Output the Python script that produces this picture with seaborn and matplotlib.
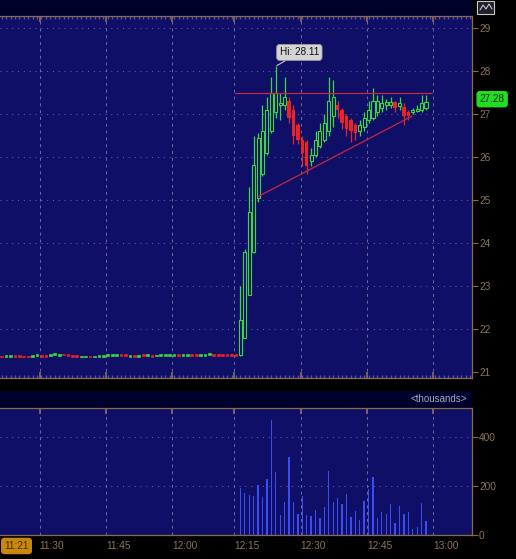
import numpy as np
import matplotlib
matplotlib.use('Agg')
import matplotlib.pyplot as plt
import seaborn as sns
from matplotlib.patches import Rectangle

# ---- data -------------------------------------------------------------
# flat bars 11:21 - 12:14 (one per minute)
pre_open = [21.38, 21.36, 21.36, 21.40, 21.40, 21.38, 21.38, 21.36, 21.38, 21.40,
            21.40, 21.38, 21.39, 21.38, 21.42, 21.41, 21.40, 21.40, 21.34, 21.34,
            21.38, 21.35, 21.36, 21.36, 21.38, 21.38, 21.38, 21.41, 21.41, 21.36,
            21.40, 21.35, 21.41, 21.38, 21.40, 21.37, 21.38, 21.38, 21.38, 21.38,
            21.41, 21.38, 21.38, 21.41, 21.41, 21.38, 21.38, 21.40, 21.41, 21.41,
            21.41, 21.41, 21.41, 21.41]
pre_close = [21.35, 21.40, 21.40, 21.36, 21.36, 21.35, 21.35, 21.40, 21.41, 21.36,
             21.36, 21.42, 21.43, 21.41, 21.39, 21.38, 21.36, 21.36, 21.37, 21.37,
             21.35, 21.38, 21.40, 21.40, 21.41, 21.41, 21.41, 21.38, 21.38, 21.40,
             21.36, 21.39, 21.37, 21.41, 21.36, 21.40, 21.41, 21.41, 21.42, 21.42,
             21.38, 21.41, 21.41, 21.38, 21.38, 21.42, 21.42, 21.44, 21.38, 21.38,
             21.38, 21.38, 21.38, 21.38]

# candles from 12:15 on
post_open = [21.40, 21.80, 22.80, 23.80, 25.05, 25.60, 26.10, 26.60, 27.05, 27.20,
             27.20, 27.30, 27.10, 26.75, 26.40, 26.35, 25.90, 26.05, 26.25, 26.40,
             26.60, 26.95, 27.20, 27.10, 26.95, 26.85, 26.75, 26.60, 26.70, 26.85,
             26.90, 27.05, 27.15, 27.20, 27.22, 27.27, 27.18, 27.17, 27.05, 27.05,
             27.08, 27.10, 27.15]
post_high = [23.00, 23.85, 25.31, 26.50, 26.55, 27.20, 27.40, 27.85, 28.11, 27.50,
             27.85, 27.40, 27.20, 26.80, 26.50, 26.40, 26.20, 26.60, 26.80, 27.00,
             27.85, 27.80, 27.30, 27.15, 27.00, 26.90, 26.80, 26.85, 27.05, 27.30,
             27.60, 27.45, 27.45, 27.35, 27.40, 27.30, 27.40, 27.25, 27.10, 27.15,
             27.20, 27.45, 27.45]
post_low = [21.38, 21.78, 22.79, 23.77, 24.95, 25.55, 26.05, 26.55, 26.90, 26.85,
            27.10, 26.80, 26.30, 26.30, 25.80, 25.60, 25.80, 26.00, 26.20, 26.35,
            26.50, 26.70, 26.90, 26.65, 26.50, 26.35, 26.40, 26.50, 26.60, 26.80,
            26.85, 26.95, 27.05, 27.10, 27.15, 27.05, 27.10, 26.75, 26.85, 27.00,
            27.05, 27.05, 27.10]
post_close = [22.20, 23.78, 24.73, 25.81, 26.45, 26.60, 27.10, 27.50, 27.50, 27.25,
              27.40, 26.90, 26.50, 26.40, 26.10, 25.80, 26.05, 26.40, 26.60, 26.80,
              27.30, 27.40, 27.10, 26.80, 26.65, 26.60, 26.55, 26.75, 26.90, 27.10,
              27.30, 27.30, 27.25, 27.27, 27.27, 27.15, 27.25, 26.95, 26.95, 27.10,
              27.12, 27.25, 27.28]

# volume (thousands) for the candles from 12:15 on
volume = [193, 172, 165, 159, 203, 156, 230, 468, 258, 81,
          136, 319, 133, 85, 159, 81, 77, 102, 68, 113,
          260, 136, 149, 126, 167, 75, 99, 61, 138, 186,
          235, 68, 94, 85, 126, 50, 118, 85, 92, 23,
          34, 132, 57]

time_labels = ['11:30', '11:45', '12:00', '12:15', '12:30', '12:45', '13:00']
time_ticks = [8.6, 23.6, 38.6, 52.6, 67.6, 82.6, 97.6]
price_ticks = [21, 22, 23, 24, 25, 26, 27, 28, 29]
vol_ticks = [0, 200, 400]

hi_value = 28.11
last_price = 27.28
first_time = '11:21'

resist_x = [52.8, 97.4]
resist_y = [27.50, 27.50]
support_x = [58.0, 92.8]
support_y = [25.08, 26.95]

# ---- style ------------------------------------------------------------
sns.set_theme(style='dark')
plt.rcParams['font.family'] = ['Liberation Sans', 'DejaVu Sans']

navy = '#0f0f68'
dark = '#00002c'
brown = '#8c6c40'
label_c = '#8e7452'
grid_c = '#6c6ca2'
green = '#3ad83a'
red = '#ee2222'
blue = '#3a4cf2'

W, H = 516, 559
fig = plt.figure(figsize=(W / 100, H / 100), dpi=100, facecolor='black')


def frame(x0, y0, x1, y1):
    return [x0 / W, 1 - y1 / H, (x1 - x0) / W, (y1 - y0) / H]


n_pre = np.arange(len(pre_open))
n_post = np.arange(len(post_open)) + len(pre_open)
xlim = (-0.385, 106.4)

# dark strips
for box in [(0, 0, 472, 16), (0, 391, 472, 408)]:
    a = fig.add_axes(frame(*box))
    a.set_facecolor(dark)
    a.set_xticks([])
    a.set_yticks([])
    for s in a.spines.values():
        s.set_visible(False)

# ---- price panel -------------------------------------------------------
ax = fig.add_axes(frame(0, 16, 472, 378))
ax.set_facecolor(navy)
ax.set_xlim(*xlim)
ax.set_ylim(20.86, 29.28)

for p in price_ticks[1:]:
    ax.axhline(p, color=grid_c, lw=0.7, ls=(0, (1, 5)), zorder=1)
for t in time_ticks:
    ax.axvline(t, color=grid_c, lw=0.7, ls=(0, (3, 4)), zorder=1)

# flat bars
pre_o = np.array(pre_open)
pre_c = np.array(pre_close)
pre_col = [green if c >= o else red for o, c in zip(pre_o, pre_c)]
ax.bar(n_pre, np.abs(pre_c - pre_o), bottom=np.minimum(pre_o, pre_c),
       width=0.62, color=pre_col, edgecolor=pre_col, linewidth=0.5, zorder=3)

# candles
po = np.array(post_open)
pc = np.array(post_close)
ph = np.array(post_high)
pl = np.array(post_low)
up = pc >= po
wick_col = [green if u else red for u in up]
ax.vlines(n_post, pl, ph, colors=wick_col, lw=0.9, zorder=2)
ax.bar(n_post[up], (pc - po)[up], bottom=po[up], width=0.7,
       facecolor=navy, edgecolor=green, linewidth=0.8, zorder=3)
ax.bar(n_post[~up], (po - pc)[~up], bottom=pc[~up], width=0.8,
       color=red, linewidth=0, zorder=3)

# trend lines
ax.plot(resist_x, resist_y, color='#c8283c', lw=0.9, zorder=4)
ax.plot(support_x, support_y, color='#c8283c', lw=0.9, zorder=4)

# high callout
hi_n = n_post[int(np.argmax(ph))]
ax.annotate(f'Hi: {hi_value:.2f}', xy=(hi_n, hi_value), xytext=(17, 10),
            textcoords='offset points', ha='center', va='center',
            fontsize=7.2, color='#101010',
            bbox=dict(boxstyle='round,pad=0.3', fc='#d4d4d4', ec='#9a9a9a', lw=0.6),
            arrowprops=dict(arrowstyle='-', color='#c8c8c8', lw=0.8,
                            shrinkA=0, shrinkB=1), zorder=6)

# last price tag
ax.annotate(f'{last_price:.2f}', xy=(1, last_price),
            xycoords=ax.get_yaxis_transform(), xytext=(14.5, 2),
            textcoords='offset points', ha='center', va='center',
            fontsize=7.2, color='#0c300c', annotation_clip=False,
            bbox=dict(boxstyle='round,pad=0.25', fc='#22dd22', ec='#22dd22'),
            zorder=7)

ax.set_xticks(time_ticks)
ax.set_xticklabels([])
ax.xaxis.set_minor_locator(matplotlib.ticker.MultipleLocator(1))
ax.tick_params(axis='x', which='major', direction='in', length=4, color=brown,
               top=True, bottom=True)
ax.tick_params(axis='x', which='minor', direction='in', length=2, color='#5454a0',
               top=True, bottom=True)
ax.set_yticks(price_ticks)
ax.yaxis.tick_right()
ax.tick_params(axis='y', direction='out', length=4, color=brown, width=0.8,
               labelsize=7.3, labelcolor=label_c, pad=1)
ax.spines['left'].set_visible(False)
for side in ['top', 'bottom', 'right']:
    ax.spines[side].set_color(brown)
    ax.spines[side].set_linewidth(0.9)
    ax.spines[side].set_visible(True)
ax.grid(False)

# ---- volume panel -------------------------------------------------------
axv = fig.add_axes(frame(0, 408, 472, 535))
axv.set_facecolor(navy)
for v in vol_ticks[1:]:
    axv.axhline(v, color=grid_c, lw=0.7, ls=(0, (1, 5)), zorder=1)
for t in time_ticks:
    axv.axvline(t, color=grid_c, lw=0.7, ls=(0, (3, 4)), zorder=1)

sns.barplot(x=n_post, y=volume, native_scale=True, width=0.3, color=blue,
            saturation=1, linewidth=0, ax=axv, zorder=3)
axv.set_xlim(*xlim)
axv.set_ylim(0, 518)
axv.set_xlabel('')
axv.set_ylabel('')
axv.set_xticks(time_ticks)
axv.set_xticklabels(time_labels, ha='left')
axv.xaxis.set_minor_locator(matplotlib.ticker.NullLocator())
axv.tick_params(axis='x', direction='in', length=4, color=brown, top=True,
                labelsize=7.3, labelcolor=label_c, pad=4)
axv.set_yticks(vol_ticks)
axv.yaxis.tick_right()
axv.tick_params(axis='y', direction='out', length=4, color=brown, width=0.8,
                labelsize=7.3, labelcolor=label_c, pad=1)
axv.spines['left'].set_visible(False)
for side in ['top', 'bottom', 'right']:
    axv.spines[side].set_color(brown)
    axv.spines[side].set_linewidth(0.9)
    axv.spines[side].set_visible(True)
axv.grid(False)

# header text and first-time tag
fig.text(467 / W, 1 - 399.5 / H, '<thousands>', ha='right', va='center',
         fontsize=7, color='#a8a8c4')
fig.text(16.5 / W, 1 - 546 / H, first_time, ha='center', va='center',
         fontsize=7.3, color='#402a00',
         bbox=dict(boxstyle='round,pad=0.25', fc='#c8880c', ec='#c8880c'))

# small toolbar icon, top right
fig.patches.append(Rectangle((477 / W, 1 - 14 / H), 17 / W, 13 / H,
                             transform=fig.transFigure, fc='#202030',
                             ec='#c8c8c8', lw=0.8))
fig.lines.append(plt.Line2D([480 / W, 483 / W, 486 / W, 489 / W, 492 / W],
                            [1 - 10 / H, 1 - 5 / H, 1 - 9 / H, 1 - 4 / H, 1 - 9 / H],
                            transform=fig.transFigure, color='#d8d8d8', lw=0.7))

fig.savefig('out.png', dpi=100, facecolor='black')
